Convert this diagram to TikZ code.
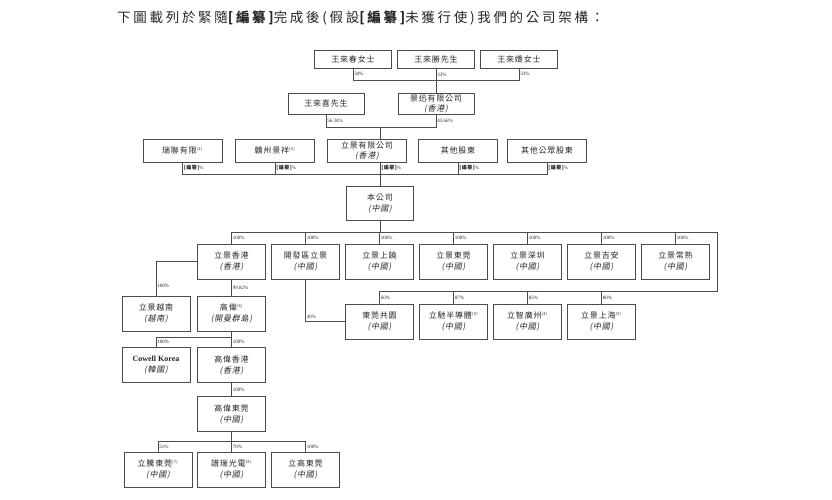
\documentclass[tikz,border=0pt]{standalone}
\usepackage{fontspec}
\setmainfont{Liberation Serif}
\newfontfamily\cjk[LetterSpace=10]{Noto Sans CJK TC}
\newfontfamily\cjkit[LetterSpace=10,FakeSlant=0.2]{Noto Sans CJK TC}
\newfontfamily\cjktitle[LetterSpace=20]{Noto Sans CJK TC}

\newcommand{\loc}[1]{\\{\cjkit(#1)}}
\newcommand{\fnmark}[1]{\textsuperscript{\fontsize{4}{4}\selectfont(#1)}}
\newcommand{\bz}{{\cjk\bfseries[編纂]}}

\begin{document}
\begin{tikzpicture}[x=1pt,y=-1pt,
  box/.style={draw=black!70, line width=0.5pt, inner sep=0pt, align=center,
    text=black!85, font=\cjk\fontsize{8}{11}\selectfont},
  sbox/.style={box, minimum width=77pt, minimum height=18pt},
  mbox/.style={box, minimum width=76pt, minimum height=21pt, font=\cjk\fontsize{8}{10}\selectfont},
  hbox/.style={box, minimum width=79pt, minimum height=23pt, font=\cjk\fontsize{8}{10}\selectfont},
  ebox/.style={box, minimum width=68pt, minimum height=35pt},
  link/.style={draw=black!70, line width=0.5pt},
  pct/.style={anchor=west, inner sep=1pt, text=black!85, font=\fontsize{5}{5}\selectfont}]
  \path[use as bounding box, fill=white] (0,0) rectangle (832,500);

  % Title
  \node[anchor=west, inner sep=0pt, text=black!85, font=\cjktitle\fontsize{13.5}{14}\selectfont] (title) at (117,18)
    {下圖載列於緊隨{\bfseries[編纂]}完成後(假設{\bfseries[編纂]}未獲行使)我們的公司架構：};

  % Shareholders
  \node[sbox] (chun) at (353,59) {王來春女士};
  \node[sbox] (sheng) at (436,59) {王來勝先生};
  \node[sbox] (jiao) at (519,59) {王來嬌女士};
  \node[mbox] (xi) at (326,103.5) {王來喜先生};
  \node[mbox] (jx) at (436,103.5) {景迅有限公司\loc{香港}};
  \node[hbox] (r1) at (182.5,150.5) {瑞聯有限\fnmark{1}};
  \node[hbox] (r2) at (275,150.5) {贛州景祥\fnmark{2}};
  \node[hbox] (lj) at (367,150.5) {立景有限公司\loc{香港}};
  \node[hbox] (qt) at (458,150.5) {其他股東};
  \node[hbox] (gz) at (547,150.5) {其他公眾股東};

  % Company
  \node[box, minimum width=67pt, minimum height=34pt] (benco) at (380,203) {本公司\loc{中國}};

  % Subsidiaries
  \node[ebox] (lxhk) at (231.5,261.5) {立景香港\loc{香港}};
  \node[ebox] (kfq) at (305.5,261.5) {開發區立景\loc{中國}};
  \node[ebox] (sr) at (379.5,261.5) {立景上饒\loc{中國}};
  \node[ebox] (dg) at (453.5,261.5) {立景東莞\loc{中國}};
  \node[ebox] (sz) at (527.5,261.5) {立景深圳\loc{中國}};
  \node[ebox] (ja) at (601.5,261.5) {立景吉安\loc{中國}};
  \node[ebox] (cs) at (675.5,261.5) {立景常熟\loc{中國}};
  \node[ebox] (dggy) at (379.5,321.5) {東莞共園\loc{中國}};
  \node[ebox] (lcbd) at (453.5,321.5) {立馳半導體\fnmark{3}\loc{中國}};
  \node[ebox] (lzgz) at (527.5,321.5) {立智廣州\fnmark{4}\loc{中國}};
  \node[ebox] (ljsh) at (601.5,321.5) {立景上海\fnmark{5}\loc{中國}};
  \node[ebox] (vn) at (156,313.5) {立景越南\loc{越南}};
  \node[ebox] (gw) at (231.5,313.5) {高偉\fnmark{6}\loc{開曼群島}};
  \node[ebox] (ck) at (156,365) {{\rmfamily\bfseries Cowell Korea}\loc{韓國}};
  \node[ebox] (gwhk) at (231.5,365) {高偉香港\loc{香港}};
  \node[ebox] (gwdg) at (231.5,414) {高偉東莞\loc{中國}};
  \node[ebox] (lt) at (158,469.5) {立騰東莞\fnmark{7}\loc{中國}};
  \node[ebox] (pr) at (231.5,469.5) {譜瑞光電\fnmark{8}\loc{中國}};
  \node[ebox] (lg) at (305.5,469.5) {立高東莞\loc{中國}};

  % Shareholding lines
  \draw[link] (chun.south) -- node[pct]{34\%} (chun.south |- 0,80) -- (jiao.south |- 0,80) -- node[pct]{33\%} (jiao.south);
  \draw[link] (sheng.south) -- node[pct, pos=0.25]{33\%} (jx.north);
  \draw[link] (xi.south) -- node[pct]{56.34\%} (xi.south |- 0,127) -- (jx.south |- 0,127) -- node[pct]{43.66\%} (jx.south);
  \draw[link] (benco.north |- 0,127) -- (benco.north |- lj.north);
  \draw[link] (r1.south) -- node[pct]{\bz\%} (r1.south |- 0,174) -- (gz.south |- 0,174) -- node[pct]{\bz\%} (gz.south);
  \draw[link] (r2.south) -- node[pct]{\bz\%} (r2.south |- 0,174);
  \draw[link] (qt.south) -- node[pct]{\bz\%} (qt.south |- 0,174);
  \draw[link] (benco.north |- lj.south) -- node[pct, pos=0.25]{\bz\%} (benco.north);

  % Company to subsidiaries
  \coordinate (busR) at (717,232);
  \draw[link] (benco.south) -- (benco.south |- busR);
  \draw[link] (lxhk.north |- busR) -- (busR) |- (dggy.north |- 0,291);
  \foreach \n in {lxhk,kfq,sr,dg,sz,ja,cs}
    \draw[link] (\n.north |- busR) -- node[pct]{100\%} (\n.north);
  \foreach \n/\p in {dggy/60,lcbd/87,lzgz/85,ljsh/80}
    \draw[link] (\n.north |- 0,291) -- node[pct]{\p\%} (\n.north);
  \draw[link] (kfq.south) |- node[pct, pos=0.45]{40\%} (dggy.west);

  % Cowell group
  \draw[link] (lxhk.west) -| node[pct, pos=0.85]{100\%} (vn.north);
  \draw[link] (lxhk.south) -- node[pct]{99.82\%} (gw.north);
  \draw[link] (gw.south) -- (gw.south |- 0,337) -| node[pct, pos=0.75]{100\%} (ck.north);
  \draw[link] (gw.south |- 0,337) -- node[pct]{100\%} (gwhk.north);
  \draw[link] (gwhk.south) -- node[pct]{100\%} (gwdg.north);
  \draw[link] (gwdg.south) -- (gwdg.south |- 0,441);
  \draw[link] (lt.north |- 0,441) -- (lg.north |- 0,441);
  \foreach \n/\p in {lt/51,pr/70,lg/100}
    \draw[link] (\n.north |- 0,441) -- node[pct]{\p\%} (\n.north);
\end{tikzpicture}
\end{document}
